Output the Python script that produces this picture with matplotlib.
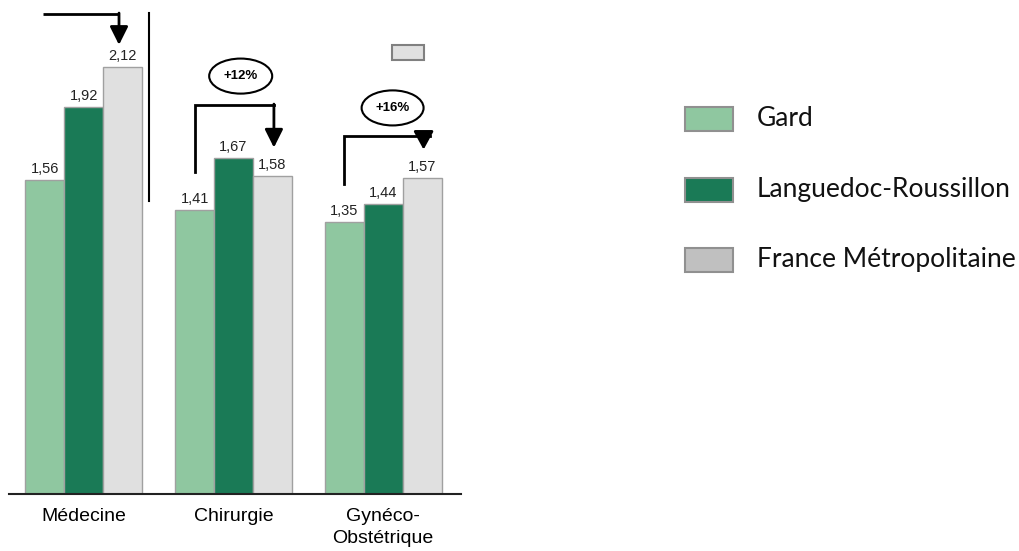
import numpy as np
import matplotlib.pyplot as plt
from matplotlib.patches import Rectangle, Ellipse

# Données
categories = ['Médecine', 'Chirurgie', 'Gynéco-\nObstétrique']
series = ['Gard', 'Languedoc-Roussillon', 'France Métropolitaine']
gard = [1.56, 1.41, 1.35]
lr = [1.92, 1.67, 1.44]
france = [2.12, 1.58, 1.57]
ecarts = ['+12%', '+16%']  # écart Gard / France, Chirurgie et Gynéco

couleurs = ['#8fc7a0', '#1a7a56', '#e0e0e0']
couleurs_legende = ['#8fc7a0', '#1a7a56', '#c0c0c0']

plt.rcParams['font.family'] = ['Liberation Sans', 'DejaVu Sans']

W, H = 1020, 551
fig = plt.figure(figsize=(W / 100, H / 100), dpi=100)
base = 494
ax = fig.add_axes([9 / W, 1 - base / H, (461 - 9) / W, base / H])

x = np.arange(len(categories))
w = 0.26
valeurs = [gard, lr, france]
for i, (vals, c) in enumerate(zip(valeurs, couleurs)):
    pos = x + (i - 1) * w
    ax.bar(pos, vals, width=w, color=c, edgecolor='#a0a0a0', linewidth=1.0, zorder=2)
    for px, v in zip(pos, vals):
        ax.text(px, v + 0.02, f'{v:.2f}'.replace('.', ','), ha='center', va='bottom',
                fontsize=10.5, color='#222222')

ax.set_xlim(-0.5, 2.52)
ax.set_ylim(0, base / 201.4)
for s in ['top', 'right', 'left']:
    ax.spines[s].set_visible(False)
ax.spines['bottom'].set_color('#222222')
ax.spines['bottom'].set_linewidth(1.5)
ax.set_yticks([])
ax.set_xticks(x)
ax.set_xticklabels(categories, fontsize=14, linespacing=1.4)
ax.tick_params(axis='x', length=0, pad=10)

lw = 2.0
fleche = dict(arrowstyle='-|>,head_length=1.1,head_width=0.55', color='black', lw=lw,
              shrinkA=0, shrinkB=0)

# Médecine : flèche vers la France et séparateur
xf = x[0] + w
ax.plot([-0.274, xf - 0.025], [2.383, 2.383], color='black', lw=lw, solid_capstyle='butt')
ax.annotate('', xy=(xf - 0.025, france[0] + 0.11), xytext=(xf - 0.025, 2.383 + 0.005),
            arrowprops=fleche)
ax.plot([0.434, 0.434], [1.455, 2.388], color='black', lw=1.5)

# Chirurgie : Gard -> France
ax.plot([x[1] - w, x[1] - w, x[1] + w + 0.01], [gard[1] + 0.19, 1.931, 1.931],
        color='black', lw=lw, solid_joinstyle='miter')
ax.annotate('', xy=(x[1] + w + 0.01, france[1] + 0.14), xytext=(x[1] + w + 0.01, 1.936),
            arrowprops=fleche)
ax.add_patch(Ellipse((1.048, 2.075), 0.421, 0.174, fill=False, lw=1.5, ec='black'))
ax.text(1.048, 2.075, ecarts[0], ha='center', va='center', fontsize=9.5, fontweight='bold')

# Gynéco-Obstétrique : Gard -> France
ax.plot([x[2] - w, x[2] - w, x[2] + w + 0.05], [gard[2] + 0.19, 1.778, 1.778],
        color='black', lw=lw, solid_joinstyle='miter')
ax.annotate('', xy=(x[2] + w + 0.01, france[2] + 0.14), xytext=(x[2] + w + 0.01, 1.778),
            arrowprops=dict(arrowstyle='-|>,head_length=1.1,head_width=0.6', color='black',
                            lw=lw, shrinkA=0, shrinkB=0))
ax.add_patch(Ellipse((2.063, 1.917), 0.414, 0.174, fill=False, lw=1.5, ec='black'))
ax.text(2.063, 1.917, ecarts[1], ha='center', va='center', fontsize=9.5, fontweight='bold')

# petit cadre gris
ax.add_patch(Rectangle((2.057, 2.155), 0.214, 0.075, facecolor='#e0e0e0', edgecolor='#808080',
                       lw=1.5, clip_on=False))

# Légende
ys = [119, 189.5, 259.5]
for nom, c, yc in zip(series, couleurs_legende, ys):
    fig.patches.append(Rectangle((685 / W, 1 - (yc + 12) / H), 48 / W, 24 / H,
                                 transform=fig.transFigure, facecolor=c,
                                 edgecolor='#909090', lw=1.5))
    fig.text(757 / W, 1 - yc / H, nom, fontsize=19, va='center', ha='left',
             family=['Lato', 'DejaVu Sans'], color='#111111')

fig.savefig('out.png', dpi=100)
